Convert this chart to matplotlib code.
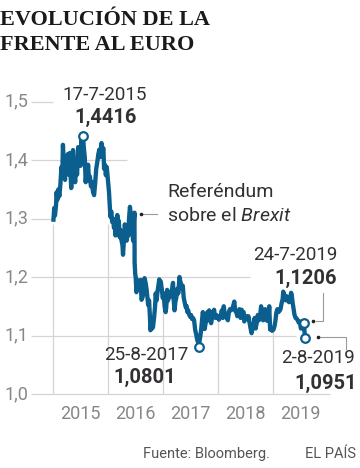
"""
Evolución de la libra frente al euro (2015-2019), estilo EL PAÍS.
"""

import matplotlib

matplotlib.use("Agg")
import matplotlib.dates as mdates
import matplotlib.pyplot as plt
import numpy as np
import pandas as pd
from matplotlib.lines import Line2D

# ---------------------------------------------------------------- data
DATES = [
    "2015-01-02", "2015-01-07", "2015-01-12", "2015-01-19", "2015-01-23", "2015-01-28",
    "2015-02-04", "2015-02-10", "2015-02-17", "2015-02-24", "2015-03-02", "2015-03-06",
    "2015-03-11", "2015-03-16", "2015-03-20", "2015-03-26", "2015-04-01", "2015-04-07",
    "2015-04-13", "2015-04-20", "2015-04-24", "2015-04-30", "2015-05-06", "2015-05-12",
    "2015-05-18", "2015-05-26", "2015-06-01", "2015-06-08", "2015-06-15", "2015-06-19",
    "2015-06-25", "2015-07-01", "2015-07-07", "2015-07-10", "2015-07-17", "2015-07-23",
    "2015-07-29", "2015-08-04", "2015-08-10", "2015-08-14", "2015-08-20", "2015-08-26",
    "2015-09-01", "2015-09-08", "2015-09-15", "2015-09-22", "2015-09-29", "2015-10-06",
    "2015-10-13", "2015-10-20", "2015-10-27", "2015-11-03", "2015-11-10", "2015-11-17",
    "2015-11-23", "2015-11-30", "2015-12-04", "2015-12-10", "2015-12-16", "2015-12-22",
    "2015-12-30", "2016-01-06", "2016-01-12", "2016-01-15", "2016-01-21", "2016-01-27",
    "2016-02-02", "2016-02-08", "2016-02-12", "2016-02-18", "2016-02-24", "2016-03-01",
    "2016-03-07", "2016-03-11", "2016-03-17", "2016-03-23", "2016-03-29", "2016-04-04",
    "2016-04-08", "2016-04-14", "2016-04-20", "2016-04-26", "2016-05-02", "2016-05-06",
    "2016-05-12", "2016-05-18", "2016-05-24", "2016-05-30", "2016-06-03", "2016-06-09",
    "2016-06-14", "2016-06-20", "2016-06-23", "2016-06-24", "2016-06-28", "2016-07-01",
    "2016-07-06", "2016-07-12", "2016-07-18", "2016-07-22", "2016-07-28", "2016-08-03",
    "2016-08-09", "2016-08-15", "2016-08-22", "2016-08-29", "2016-09-05", "2016-09-12",
    "2016-09-16", "2016-09-22", "2016-09-28", "2016-10-04", "2016-10-07", "2016-10-12",
    "2016-10-18", "2016-10-24", "2016-10-31", "2016-11-07", "2016-11-11", "2016-11-17",
    "2016-11-23", "2016-11-29", "2016-12-05", "2016-12-09", "2016-12-15", "2016-12-21",
    "2016-12-28", "2017-01-03", "2017-01-09", "2017-01-16", "2017-01-20", "2017-01-26",
    "2017-02-01", "2017-02-07", "2017-02-14", "2017-02-20", "2017-02-27", "2017-03-06",
    "2017-03-10", "2017-03-16", "2017-03-22", "2017-03-28", "2017-04-04", "2017-04-10",
    "2017-04-18", "2017-04-24", "2017-04-28", "2017-05-04", "2017-05-10", "2017-05-16",
    "2017-05-22", "2017-05-30", "2017-06-05", "2017-06-09", "2017-06-15", "2017-06-21",
    "2017-06-28", "2017-07-04", "2017-07-11", "2017-07-17", "2017-07-24", "2017-07-31",
    "2017-08-07", "2017-08-14", "2017-08-21", "2017-08-25", "2017-08-29", "2017-09-04",
    "2017-09-08", "2017-09-14", "2017-09-20", "2017-09-26", "2017-10-02", "2017-10-09",
    "2017-10-16", "2017-10-20", "2017-10-26", "2017-11-01", "2017-11-07", "2017-11-14",
    "2017-11-20", "2017-11-27", "2017-12-04", "2017-12-08", "2017-12-14", "2017-12-20",
    "2017-12-29", "2018-01-05", "2018-01-11", "2018-01-18", "2018-01-24", "2018-01-31",
    "2018-02-06", "2018-02-12", "2018-02-19", "2018-02-26", "2018-03-05", "2018-03-12",
    "2018-03-19", "2018-03-26", "2018-04-02", "2018-04-09", "2018-04-17", "2018-04-23",
    "2018-04-30", "2018-05-07", "2018-05-14", "2018-05-21", "2018-05-29", "2018-06-05",
    "2018-06-11", "2018-06-18", "2018-06-22", "2018-06-28", "2018-07-05", "2018-07-12",
    "2018-07-20", "2018-07-27", "2018-08-03", "2018-08-10", "2018-08-16", "2018-08-23",
    "2018-08-30", "2018-09-06", "2018-09-13", "2018-09-20", "2018-09-27", "2018-10-04",
    "2018-10-12", "2018-10-18", "2018-10-25", "2018-11-01", "2018-11-08", "2018-11-15",
    "2018-11-22", "2018-11-29", "2018-12-05", "2018-12-11", "2018-12-18", "2018-12-24",
    "2019-01-02", "2019-01-09", "2019-01-15", "2019-01-21", "2019-01-28", "2019-02-04",
    "2019-02-11", "2019-02-18", "2019-02-25", "2019-03-04", "2019-03-08", "2019-03-13",
    "2019-03-18", "2019-03-25", "2019-04-01", "2019-04-08", "2019-04-15", "2019-04-23",
    "2019-04-29", "2019-05-03", "2019-05-10", "2019-05-16", "2019-05-22", "2019-05-29",
    "2019-06-05", "2019-06-12", "2019-06-19", "2019-06-26", "2019-07-03", "2019-07-10",
    "2019-07-17", "2019-07-24", "2019-07-29", "2019-08-02",
]

GBP_EUR = [
    1.298, 1.318, 1.305, 1.322, 1.345, 1.332,
    1.350, 1.338, 1.358, 1.388, 1.376, 1.426,
    1.398, 1.372, 1.366, 1.398, 1.386, 1.410,
    1.375, 1.412, 1.384, 1.352, 1.382, 1.417,
    1.392, 1.362, 1.388, 1.375, 1.422, 1.400,
    1.412, 1.390, 1.434, 1.412, 1.4416, 1.420,
    1.405, 1.362, 1.380, 1.368, 1.392, 1.365,
    1.372, 1.355, 1.362, 1.345, 1.340, 1.360,
    1.385, 1.396, 1.410, 1.418, 1.405, 1.429,
    1.416, 1.420, 1.385, 1.392, 1.374, 1.388,
    1.366, 1.345, 1.315, 1.303, 1.312, 1.294,
    1.300, 1.284, 1.292, 1.271, 1.285, 1.306,
    1.288, 1.296, 1.268, 1.280, 1.262, 1.255,
    1.238, 1.262, 1.290, 1.272, 1.262, 1.280,
    1.270, 1.300, 1.320, 1.305, 1.288, 1.275,
    1.262, 1.300, 1.310, 1.225, 1.205, 1.200,
    1.174, 1.195, 1.190, 1.178, 1.186, 1.195,
    1.161, 1.165, 1.172, 1.198, 1.190, 1.178,
    1.168, 1.152, 1.160, 1.130, 1.109, 1.118,
    1.112, 1.114, 1.130, 1.150, 1.172, 1.160,
    1.175, 1.185, 1.196, 1.185, 1.192, 1.180,
    1.164, 1.172, 1.150, 1.140, 1.148, 1.178,
    1.160, 1.168, 1.172, 1.167, 1.178, 1.190,
    1.162, 1.143, 1.158, 1.165, 1.180, 1.172,
    1.200, 1.192, 1.189, 1.180, 1.185, 1.165,
    1.157, 1.148, 1.150, 1.140, 1.143, 1.136,
    1.132, 1.135, 1.128, 1.130, 1.126, 1.110,
    1.102, 1.092, 1.088, 1.0801, 1.090, 1.100,
    1.108, 1.125, 1.140, 1.128, 1.111, 1.122,
    1.125, 1.140, 1.130, 1.143, 1.128, 1.121,
    1.130, 1.140, 1.144, 1.135, 1.130, 1.135,
    1.130, 1.127, 1.132, 1.135, 1.143, 1.130,
    1.150, 1.138, 1.133, 1.130, 1.126, 1.140,
    1.145, 1.143, 1.145, 1.150, 1.158, 1.142,
    1.140, 1.133, 1.136, 1.145, 1.130, 1.144,
    1.137, 1.140, 1.124, 1.130, 1.133, 1.128,
    1.133, 1.122, 1.112, 1.104, 1.112, 1.118,
    1.130, 1.112, 1.122, 1.135, 1.126, 1.130,
    1.150, 1.138, 1.126, 1.136, 1.145, 1.127,
    1.125, 1.128, 1.150, 1.110, 1.112, 1.108,
    1.110, 1.116, 1.125, 1.139, 1.145, 1.140,
    1.142, 1.145, 1.155, 1.162, 1.175, 1.170,
    1.168, 1.160, 1.167, 1.162, 1.157, 1.160,
    1.173, 1.170, 1.155, 1.145, 1.135, 1.130,
    1.129, 1.126, 1.122, 1.124, 1.112, 1.112,
    1.114, 1.1206, 1.100, 1.0951,
]

HIGHLIGHT_DATES = ["2015-07-17", "2017-08-25", "2019-07-24", "2019-08-02"]
HIGHLIGHT_VALUES = [1.4416, 1.0801, 1.1206, 1.0951]
HIGHLIGHT_LABELS = ["17-7-2015", "25-8-2017", "24-7-2019", "2-8-2019"]
HIGHLIGHT_VALUE_LABELS = ["1,4416", "1,0801", "1,1206", "1,0951"]

Y_TICKS = [1.0, 1.1, 1.2, 1.3, 1.4, 1.5]
Y_TICK_LABELS = ["1,0", "1,1", "1,2", "1,3", "1,4", "1,5"]
YEARS = [2015, 2016, 2017, 2018, 2019]

# gridline right ends (the chart's labels interrupt some of them)
GRID_END = ["2020-01-10", "2019-06-01", "2018-07-30", "2015-01-01", "2016-05-04", "2015-01-01"]

# ---------------------------------------------------------------- style
W, H = 360, 468
BLUE = "#0a5f8f"
DARK = "#333033"
GREY = "#8a8686"
GRID = "#d4d4d4"
SANS = ["Roboto", "DejaVu Sans"]

plt.rcParams["mathtext.fontset"] = "custom"
plt.rcParams["mathtext.it"] = "Roboto:italic"
plt.rcParams["mathtext.rm"] = "Roboto"


def fx(px):
    return px / W


def fy(py):
    return 1 - py / H


def main() -> None:
    dates = pd.to_datetime(DATES)
    values = np.array(GBP_EUR)
    hl_dates = pd.to_datetime(HIGHLIGHT_DATES)

    fig = plt.figure(figsize=(W / 100, H / 100), dpi=100)
    ax = fig.add_axes([0, 0, 1, 1])
    ax.set_axis_off()

    # axis mapping: Jan 1 2015 at x=53.3 px, 55 px per year; 1.0 at y=394, 58.5 px per 0.1
    x0 = mdates.date2num(pd.Timestamp("2015-01-01"))
    day = 55 / 365.25
    ax.set_xlim(x0 - 53.3 / day, x0 + (W - 53.3) / day)
    ax.set_ylim(1.0 - (H - 394) / 585, 1.0 + 394 / 585)

    # horizontal grid
    grid_start = mdates.date2num(pd.Timestamp("2014-08-05"))
    for yv, lab, end in zip(Y_TICKS, Y_TICK_LABELS, GRID_END):
        ax.hlines(yv, grid_start, mdates.date2num(pd.Timestamp(end)),
                  color=GRID, lw=0.9, zorder=1)
        ax.text(0.012, yv, lab, transform=ax.get_yaxis_transform(),
                ha="left", va="center", fontsize=13, color=GREY, family=SANS)

    # vertical grid at year starts, ending under the line
    dnum = mdates.date2num(dates)
    for yr in YEARS:
        xv = mdates.date2num(pd.Timestamp(f"{yr}-01-01"))
        top = min(1.29, np.interp(xv, dnum, values))
        ax.vlines(xv, 1.0, top, color=GRID, lw=0.9, zorder=1)
        ax.text(mdates.date2num(pd.Timestamp(f"{yr}-07-02")), 1.0 - 25 / 585,
                str(yr), ha="center", va="baseline", fontsize=13, color=GREY, family=SANS)

    # series
    ax.plot(dates, values, color=BLUE, lw=3.1, solid_joinstyle="round", zorder=3)
    ax.plot(hl_dates, HIGHLIGHT_VALUES, "o", ms=6.2, mfc="white", mec=BLUE, mew=1.6, zorder=4)

    # highlight labels (pixel positions of the original layout)
    lab_kw = dict(fontsize=13.5, color=DARK, family=SANS, va="baseline")
    val_kw = dict(fontsize=14.5, color=DARK, family=SANS, va="baseline", weight="bold")
    pos = [
        ((104.5, 100, "center"), (106, 123, "center")),
        ((146, 360, "center"), (145, 383, "center")),
        ((337, 260, "right"), (337, 284, "right")),
        ((355, 363, "right"), (357, 389, "right")),
    ]
    for (p1, p2), lab, vlab in zip(pos, HIGHLIGHT_LABELS, HIGHLIGHT_VALUE_LABELS):
        fig.text(fx(p1[0]), fy(p1[1]), lab, ha=p1[2], **lab_kw)
        fig.text(fx(p2[0]), fy(p2[1]), vlab, ha=p2[2], **val_kw)

    # Brexit note
    fig.text(fx(167), fy(197), "Referéndum", ha="left", va="baseline",
             fontsize=14, color=DARK, family=SANS)
    fig.text(fx(167), fy(221), "sobre el $\\it{Brexit}$", ha="left", va="baseline",
             fontsize=14, color=DARK, family=SANS)

    # leader lines
    leaders = [
        [(143, 214), (157, 214)],
        [(315.5, 321), (323, 321), (323, 293)],
        [(320, 337.3), (346, 337.3), (346, 349)],
    ]
    dots = [(140.5, 214), (312.7, 321), (317.5, 337.3)]
    for seg in leaders:
        xs, ys = zip(*seg)
        fig.add_artist(Line2D([fx(v) for v in xs], [fy(v) for v in ys],
                              color="#9a9a9a", lw=0.8))
    for dx, dy in dots:
        fig.add_artist(Line2D([fx(dx)], [fy(dy)], marker="o", ms=1.6,
                              color="#222222", lw=0))

    # title
    title_font = ["DejaVu Serif Condensed", "Liberation Serif"]
    fig.text(0, fy(25), "EVOLUCIÓN DE LA", ha="left", va="baseline", fontsize=16,
             weight="bold", color="#1a1a1a", family=title_font)
    fig.text(0, fy(50), "FRENTE AL EURO", ha="left", va="baseline", fontsize=16,
             weight="bold", color="#1a1a1a", family=title_font)

    # footer
    fig.text(fx(143), fy(458), "Fuente: Bloomberg.", ha="left", va="baseline",
             fontsize=10.5, color="#555555", family=SANS)
    fig.text(fx(356), fy(458), "EL PAÍS", ha="right", va="baseline",
             fontsize=10.5, color="#555555", family=SANS)

    fig.savefig("out.png", dpi=100)
    plt.close(fig)


if __name__ == "__main__":
    main()
